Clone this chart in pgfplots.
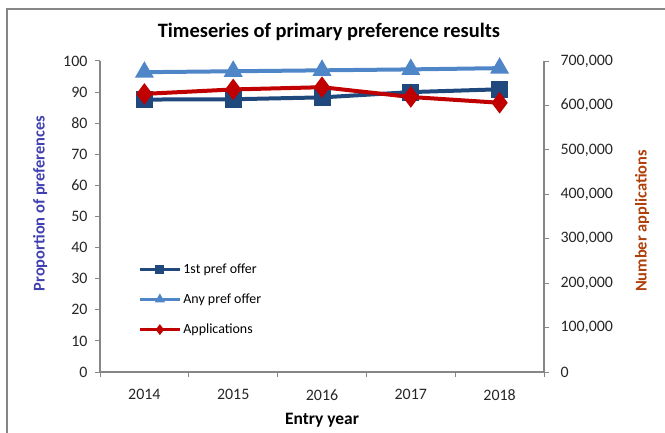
\documentclass[border=0pt]{standalone}
\usepackage{pgfplots}
\pgfplotsset{compat=1.18}
\usepackage{fontspec}
\setmainfont{Carlito}
\definecolor{axgray}{RGB}{134,134,134}
\definecolor{dblue}{RGB}{31,73,125}
\definecolor{lblue}{RGB}{79,134,200}
\definecolor{dred}{RGB}{192,0,0}
\definecolor{lcol}{RGB}{64,64,176}
\definecolor{rcol}{RGB}{176,64,10}
\begin{document}
\begin{tikzpicture}[x=1bp,y=1bp]
\useasboundingbox (0,0) rectangle (665,432);
\clip (0,0) rectangle (665,432);
\draw[axgray, line width=1.5bp] (7,-10) -- (7,423) -- (680,423);
\node[font=\bfseries\fontsize{20.5}{24}\selectfont] at (329,400) {Timeseries of primary preference results};
\pgfplotsset{
  every axis/.append style={
    scale only axis, width=444bp, height=311bp,
    at={(100bp,60bp)}, anchor=south west,
    xmin=-0.5, xmax=4.5,
    axis line style={axgray, line width=1.5bp},
    tick style={axgray, line width=1bp},
    tick align=outside, major tick length=5bp,
    ticklabel style={font=\fontsize{16}{19}\selectfont, text=black!85},
    /pgf/number format/assume math mode=true,
  }
}
\begin{axis}[
  axis x line*=bottom, axis y line*=left,
  ymin=0, ymax=100, ytick={0,10,...,100},
  yticklabel style={xshift=-4bp},
  xtick={-0.5,0.5,...,4.5}, x tick label as interval,
  xticklabels={2014,2015,2016,2017,2018},
  xticklabel style={yshift=-9bp},
  xlabel={Entry year},
  xlabel style={font=\bfseries\fontsize{17.5}{20}\selectfont, at={(axis description cs:0.5,-0.155)}, anchor=center},
  ylabel={Proportion of preferences},
  ylabel style={font=\bfseries\fontsize{16.5}{19}\selectfont, text=lcol, at={(axis description cs:-0.135,0.542)}, anchor=center, rotate=0},
]
\addplot[dblue, line width=4bp, mark=square*, mark size=6.5bp, mark options={solid}] coordinates {(0,87.6) (1,87.7) (2,88.3) (3,90.0) (4,90.9)};
\addplot[lblue, line width=4bp, mark=triangle*, mark size=7bp, mark options={solid}] coordinates {(0,96.4) (1,96.7) (2,97.0) (3,97.3) (4,97.7)};
\end{axis}
\begin{axis}[
  axis x line=none, axis y line*=right,
  ymin=0, ymax=700000, ytick={0,100000,...,700000},
  scaled y ticks=false,
  yticklabel style={xshift=8bp, /pgf/number format/.cd, 1000 sep={,}, fixed},
  ylabel={Number applications},
  ylabel style={font=\bfseries\fontsize{16.5}{19}\selectfont, text=rcol, at={(axis description cs:1.221,0.486)}, anchor=center, rotate=0},
  legend style={draw=none, fill=none, at={(axis description cs:0.086,0.355)}, anchor=north west,
    font=\fontsize{14}{16}\selectfont, row sep=15bp, inner sep=0pt,
    legend cell align=left},
  legend image code/.code={\draw[mark repeat=2, mark phase=2, #1] plot coordinates {(0bp,0bp) (20bp,0bp) (40bp,0bp)};},
]
\addplot[dred, line width=4bp, mark=diamond*, mark size=7.5bp, mark options={solid}, forget plot] coordinates {(0,626000) (1,636000) (2,641000) (3,619000) (4,606000)};
\addlegendimage{dblue, line width=3bp, mark=square*, mark size=3bp}
\addlegendentry{1st pref offer}
\addlegendimage{lblue, line width=3bp, mark=triangle*, mark size=3bp}
\addlegendentry{Any pref offer}
\addlegendimage{dred, line width=3bp, mark=diamond*, mark size=3bp}
\addlegendentry{Applications}
\end{axis}
\end{tikzpicture}
\end{document}
